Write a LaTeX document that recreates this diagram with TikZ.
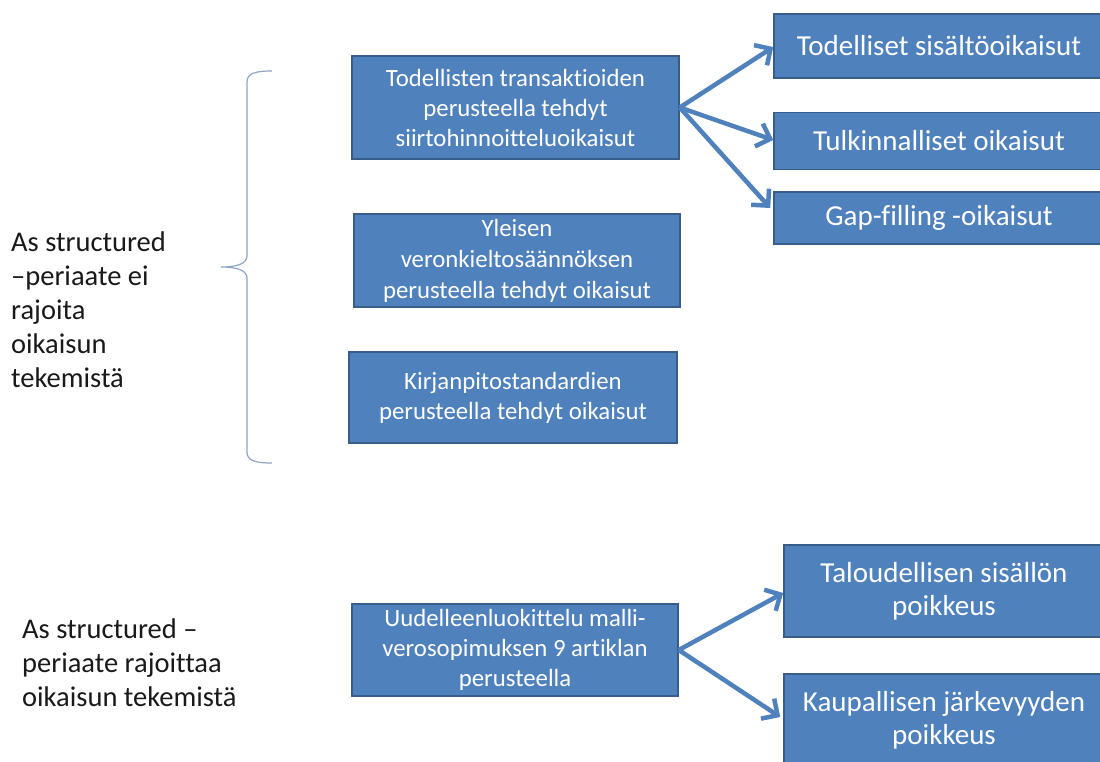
\documentclass[tikz,border=0pt]{standalone}
\usepackage{fontspec}
\setmainfont{Carlito}[Ligatures=NoCommon]
\usetikzlibrary{arrows.meta}
\definecolor{boxblue}{HTML}{4F81BD}
\definecolor{boxedge}{HTML}{385D8A}
\definecolor{bracegray}{HTML}{8FA5C6}

\begin{document}
\begin{tikzpicture}[x=1pt, y=-1pt,
      box/.style={draw=boxedge, line width=1.5pt, fill=boxblue, text=white, align=center, inner sep=0pt},
      smallbox/.style={box, font=\fontsize{24.8}{30}\selectfont},
      bigbox/.style={box, font=\fontsize{29}{33}\selectfont},
      arr/.style={draw=boxblue, line width=4.5pt, -{Straight Barb[length=12pt,width=24pt]}},
      sidetext/.style={align=left, inner sep=0pt, anchor=west, text=black!90, font=\fontsize{28.5}{34}\selectfont}]
      \useasboundingbox (0,0) rectangle (1100,761);
      \node at (11,310)[sidetext] (eirajoita){As structured\\--periaate ei\\rajoita\\oikaisun\\tekemistä};
      \node at (22,663)[sidetext] (rajoittaa){As structured --\\periaate rajoittaa\\oikaisun tekemistä};
      \draw[bracegray, line width=1.2pt] (272,71) .. controls (256,71) and (247,73) .. (247,82) -- (247,256)
            .. controls (247,264) and (236,267) .. (221,267) .. controls (236,267) and (247,270) .. (247,278)
            -- (247,452) .. controls (247,461) and (256,463) .. (272,463);
      \node at (515.5,107.5)[smallbox, minimum width=327pt, minimum height=103pt] (todell){Todellisten transaktioiden\\perusteella tehdyt\\siirtohinnoitteluoikaisut};
      \node at (517,260.5)[smallbox, minimum width=326pt, minimum height=93pt, font=\fontsize{24.8}{31}\selectfont] (yleisen){Yleisen\\veronkieltosäännöksen\\perusteella tehdyt oikaisut};
      \node at (513,397.5)[smallbox, minimum width=328pt, minimum height=91pt] (kirjan){Kirjanpitostandardien\\perusteella tehdyt oikaisut};
      \node at (515,650)[smallbox, minimum width=326pt, minimum height=92pt] (uudell){Uudelleenluokittelu malli-\\verosopimuksen 9 artiklan\\perusteella};
      \node at (939,46)[bigbox, minimum width=330pt, minimum height=64pt] (sisalto){Todelliset sisältöoikaisut};
      \node at (939,141)[bigbox, minimum width=330pt, minimum height=57pt] (tulkinta){Tulkinnalliset oikaisut};
      \node at (939,218)[bigbox, minimum width=330pt, minimum height=52pt] (gap){Gap-filling -oikaisut};
      \node at (944,591)[bigbox, minimum width=320pt, minimum height=92pt] (talous){Taloudellisen sisällön\\poikkeus};
      \node at (944,720)[bigbox, minimum width=320pt, minimum height=92pt] (kaupall){Kaupallisen järkevyyden\\poikkeus};
      \draw[arr] (todell.east) -- ([yshift=-1pt]sisalto.west);
      \draw[arr] (todell.east) -- ([yshift=1pt]tulkinta.west);
      \draw[arr] (todell.east) -- ([xshift=-3pt,yshift=10pt]gap.west);
      \draw[arr] (uudell.east) -- ([yshift=-2pt]talous.west);
      \draw[arr] (uudell.east) -- ([xshift=-3pt,yshift=3pt]kaupall.west);
\end{tikzpicture}
\end{document}
